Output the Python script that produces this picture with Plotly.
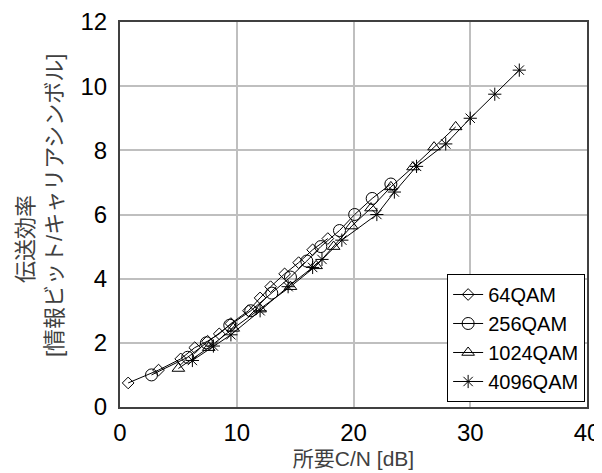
import plotly.graph_objects as go

qam64_x = [0.7, 3.3, 5.2, 6.4, 7.5, 8.5, 9.5, 11.0, 12.0, 12.9, 14.1, 15.3, 16.5, 17.8]
qam64_y = [0.75, 1.15, 1.5, 1.85, 2.05, 2.28, 2.6, 3.0, 3.4, 3.75, 4.15, 4.5, 4.9, 5.25]

qam256_x = [2.7, 5.8, 7.4, 9.4, 11.2, 13.0, 14.6, 16.0, 17.2, 18.8, 20.1, 21.6, 23.2]
qam256_y = [1.0, 1.55, 2.0, 2.55, 3.0, 3.55, 4.05, 4.55, 5.0, 5.5, 6.0, 6.5, 6.95]

qam1024_x = [5.0, 7.6, 9.7, 12.0, 14.6, 16.8, 18.3, 19.85, 21.5, 23.2, 25.1, 26.9, 28.75]
qam1024_y = [1.2, 1.85, 2.45, 3.05, 3.75, 4.4, 5.0, 5.64, 6.2, 6.86, 7.48, 8.1, 8.73]

qam4096_x = [6.2, 8.0, 9.5, 12.0, 14.4, 16.5, 17.3, 19.0, 22.0, 23.5, 25.4, 27.9, 30.0, 32.1, 34.2]
qam4096_y = [1.45, 1.9, 2.25, 3.0, 3.75, 4.35, 4.6, 5.2, 6.0, 6.7, 7.5, 8.2, 9.0, 9.75, 10.5]

series = [
    ("64QAM", qam64_x, qam64_y, "diamond-open", 9),
    ("256QAM", qam256_x, qam256_y, "circle-open", 12),
    ("1024QAM", qam1024_x, qam1024_y, "triangle-up-open", 11),
    ("4096QAM", qam4096_x, qam4096_y, "asterisk-open", 11),
]

fig = go.Figure()
for name, xs, ys, sym, sz in series:
    fig.add_trace(go.Scatter(
        x=xs, y=ys, name=name, mode="lines+markers",
        line=dict(color="black", width=1),
        marker=dict(symbol=sym, size=sz, color="black", line=dict(color="black", width=1)),
    ))

font = "Liberation Sans, Arial, Noto Sans CJK JP, sans-serif"
nb = "\u00a0"
ytitle = "伝送効率" + nb * 8 + "<br>" + nb * 3 + "[情報ビット/キャリアシンボル]"

# page body has an 8px default margin: size figure to fit the 602x473 viewport
fig.update_layout(
    width=594, height=465,
    margin=dict(l=112, r=15, t=14, b=66),
    paper_bgcolor="white", plot_bgcolor="white",
    font=dict(family=font, size=24, color="black"),
    xaxis=dict(
        range=[0, 40], dtick=10, showgrid=True, gridcolor="#bfbfbf", gridwidth=2,
        showline=True, linecolor="#404040", linewidth=2, mirror=True, ticks="",
        zeroline=False, automargin=False, tickfont=dict(size=24), ticklabelstandoff=3,
        title=dict(text="所要C/N [dB]", font=dict(size=21, color="#404040"), standoff=7),
    ),
    yaxis=dict(
        range=[0, 12], dtick=2, showgrid=True, gridcolor="#bfbfbf", gridwidth=2,
        showline=True, linecolor="#404040", linewidth=2, mirror=True, ticks="",
        zeroline=False, ticklabelstandoff=6, automargin=False, tickfont=dict(size=24),
        title=dict(text=ytitle, font=dict(size=22, color="#404040"), standoff=12),
    ),
    legend=dict(
        x=0.996, y=0.013, xanchor="right", yanchor="bottom",
        bgcolor="white", bordercolor="black", borderwidth=1,
        font=dict(size=20), tracegroupgap=0, itemwidth=30,
    ),
)

fig.write_html("out.html")
